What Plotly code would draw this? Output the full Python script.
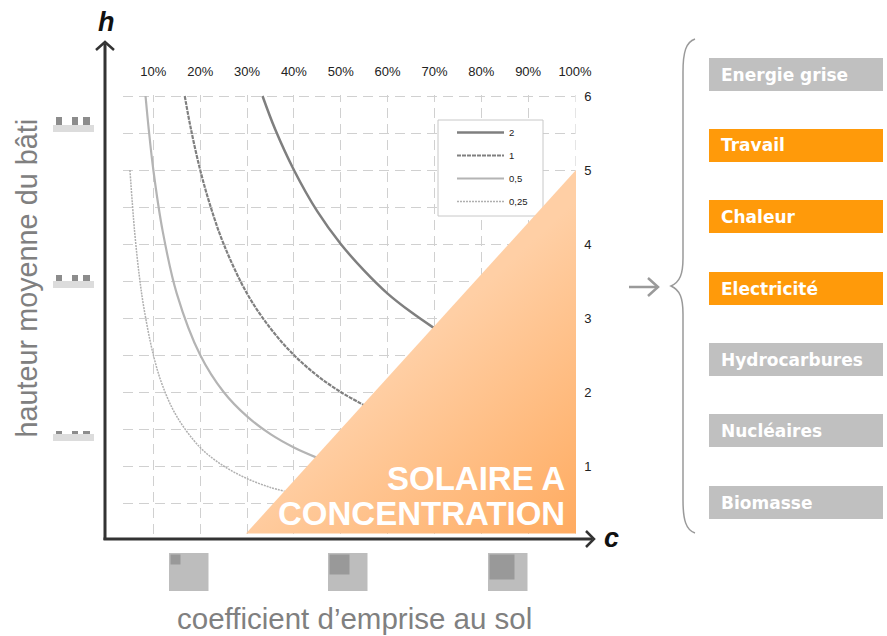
import re
import base64
import plotly.graph_objects as go

W, H = 887, 636
X0, X100 = 106.5, 575.0
Y0, Y6 = 540.0, 96.0
X_MAX, Y_MAX = 100.5, 6.06

coverage_ticks = [10, 20, 30, 40, 50, 60, 70, 80, 90, 100]
coverage_labels = ["10%", "20%", "30%", "40%", "50%", "60%", "70%", "80%", "90%", "100%"]
height_ticks = [1, 2, 3, 4, 5, 6]
height_minor = [0.5, 1.5, 2.5, 3.5, 4.5, 5.5]

names = ["2", "1", "0,5", "0,25"]
c_2 = [33.3, 36, 40, 45, 50, 55, 60, 65, 70]
h_2 = [6, 5.55, 5, 4.44, 4, 3.64, 3.33, 3.08, 2.86]
c_1 = [16.7, 18, 20, 22, 25, 30, 35, 40, 45, 50, 55]
h_1 = [6, 5.56, 5, 4.55, 4, 3.33, 2.86, 2.5, 2.22, 2, 1.82]
c_05 = [8.33, 9, 10, 12, 15, 20, 25, 30, 35, 40, 45]
h_05 = [6, 5.56, 5, 4.17, 3.33, 2.5, 2, 1.67, 1.43, 1.25, 1.11]
c_025 = [5, 6, 7, 8, 10, 12, 15, 20, 25, 30, 35, 38]
h_025 = [5, 4.17, 3.57, 3.13, 2.5, 2.08, 1.67, 1.25, 1, 0.83, 0.71, 0.66]

energy_labels = ["Energie grise", "Travail", "Chaleur", "Electricité", "Hydrocarbures", "Nucléaires", "Biomasse"]
energy_tops = [58, 129, 200, 272, 343, 414, 486]
energy_active = [False, True, True, True, False, False, False]

FONT = "Liberation Sans"
PX_PER_X = (X100 - X0) / 100
PX_PER_Y = (Y0 - Y6) / 6


def px(x):
    return x / W


def py(y):
    return 1 - y / H


def data_x(x):
    return (x - X0) / PX_PER_X


def data_y(y):
    return (Y0 - y) / PX_PER_Y


shapes = []


def rect(x0, y0, x1, y1, color):
    shapes.append(dict(type="rect", xref="paper", yref="paper", x0=px(x0), x1=px(x1), y0=py(y0), y1=py(y1),
                       fillcolor=color, line_width=0, layer="above"))


def path(points, color, width):
    d = "M" + " L".join(f"{px(a):.5f},{py(b):.5f}" for a, b in points)
    shapes.append(dict(type="path", xref="paper", yref="paper", path=d, line=dict(color=color, width=width),
                       layer="above"))


def curve(d, color, width):
    toks = re.findall(r"[MCL]|-?[\d.]+", d)
    out = []
    is_x = True
    for t in toks:
        if t in "MCL":
            out.append(t)
            is_x = True
        else:
            v = float(t)
            out.append(f"{px(v) if is_x else py(v):.5f}")
            is_x = not is_x
    shapes.append(dict(type="path", xref="paper", yref="paper", path=" ".join(out),
                       line=dict(color=color, width=width), layer="above"))


def mask(x0, x1, y0, y1):
    shapes.append(dict(type="rect", xref="x", yref="y", x0=x0, x1=x1, y0=y0, y1=y1,
                       fillcolor="white", line_width=0, layer="between"))


# white masks trimming the grid to the reference's extent
mask(0, 3.4, 0.1, Y_MAX)
mask(0, X_MAX, 6.012, Y_MAX)
mask(100.12, X_MAX, 0, Y_MAX)
# legend frame
shapes.append(dict(type="rect", xref="x", yref="y", x0=data_x(438), x1=data_x(543), y0=data_y(216), y1=data_y(120),
                   fillcolor="white", line=dict(color="#c8c8c8", width=1), layer="between"))

# main axes with arrow heads
AX = "#333333"
path([(105, 540), (105, 44)], AX, 3)
path([(96, 50), (105, 42), (114, 50)], AX, 2.5)
path([(103.5, 539), (592, 539)], AX, 3)
path([(586, 531), (594, 539), (586, 547)], AX, 2.5)

# small building icons on the height axis
for bar_top, sq_top, sq_bot in [(125, 117, 125), (281, 275, 281), (434, 431, 434)]:
    rect(53, bar_top, 94, bar_top + 7, "#dcdcdc")
    for a, b in [(56, 62), (72, 78), (83, 90)]:
        rect(a, sq_top, b, sq_bot, "#8c8c8c")

# plot-coverage thumbnails
for left, side in [(169, 10), (328, 20), (488, 25)]:
    rect(left, 553, left + 39.5, 591, "#bdbdbd")
    rect(left + 1.5, 554.5, left + 1.5 + side, 554.5 + side, "#999999")

# energy boxes
for top, active in zip(energy_tops, energy_active):
    rect(709, top, 883, top + 33, "#ff9a0a" if active else "#c0c0c0")

# brace and arrow
curve("M695 39 C686 42 683 52 683 72 L683 258 C683 274 680 282 671 286 C680 290 683 298 683 314 L683 500 C683 520 686 530 695 533",
      "#9a9a9a", 1.5)
path([(629, 287), (658, 287)], "#9a9a9a", 2.5)
path([(648, 278), (658, 287), (648, 296)], "#9a9a9a", 2.5)

annotations = []


def text(x, y, s, size, color, bold=False, italic=False, anchor="center", angle=0, family=FONT):
    if bold:
        s = f"<b>{s}</b>"
    if italic:
        s = f"<i>{s}</i>"
    annotations.append(dict(x=px(x), y=py(y), xref="paper", yref="paper", text=s, showarrow=False,
                            xanchor=anchor, yanchor="middle", textangle=angle,
                            font=dict(family=family, size=size, color=color)))


text(106, 22, "h", 27, "#111111", bold=True, italic=True)
text(611, 538, "c", 27, "#111111", bold=True, italic=True)
text(26, 278.5, "hauteur moyenne du bâti", 28.8, "#808080", angle=-90)
text(354.5, 618, "coefficient d’emprise au sol", 29.5, "#808080")
text(567, 478, "SOLAIRE A", 33, "white", bold=True, anchor="right")
text(567, 513, "CONCENTRATION", 33, "white", bold=True, anchor="right")
for label, top in zip(energy_labels, energy_tops):
    text(719, top + 16.5, label, 17, "#ffffff", bold=True, anchor="left", family="DejaVu Sans")

svg = f'''<svg xmlns="http://www.w3.org/2000/svg" width="{W}" height="{H}" viewBox="0 0 {W} {H}">
<defs><linearGradient id="g" gradientUnits="userSpaceOnUse" x1="410" y1="352" x2="576" y2="534">
<stop offset="0" stop-color="#ffcfa5"/><stop offset="1" stop-color="#ffab60"/></linearGradient></defs>
<polygon points="246,533.5 576,170 576,533.5" fill="url(#g)"/></svg>'''
img = "data:image/svg+xml;base64," + base64.b64encode(svg.encode()).decode()

fig = go.Figure()
styles = [
    ("#7f7f7f", 2.5, "solid"),
    ("#808080", 2.2, "4px,1px"),
    ("#b4b4b4", 2.2, "solid"),
    ("#b0b0b0", 1.5, "2px,1px"),
]
for name, cs, hs, (color, width, dash) in zip(names, [c_2, c_1, c_05, c_025], [h_2, h_1, h_05, h_025], styles):
    fig.add_trace(go.Scatter(x=cs, y=hs, name=name, mode="lines", legendgroup=name,
                             line=dict(color=color, width=width, dash=dash, shape="spline")))

GRID = "#d0d0d0"
DASH = "10px,6px"
fig.update_layout(
    width=W, height=H, margin=dict(l=0, r=0, t=0, b=0), autosize=False,
    paper_bgcolor="white", plot_bgcolor="white",
    font=dict(family=FONT, color="#222222"),
    xaxis=dict(domain=[px(X0), px(X0 + X_MAX * PX_PER_X)], range=[0, X_MAX], side="top", tickvals=coverage_ticks,
               ticktext=coverage_labels, showgrid=True, gridcolor=GRID, griddash=DASH, gridwidth=1,
               zeroline=False, showline=False, ticks="", tickfont=dict(size=13, color="#222222"),
               ticklabelstandoff=12, automargin=False, fixedrange=True),
    yaxis=dict(domain=[py(Y0), py(Y0 - Y_MAX * PX_PER_Y)], range=[0, Y_MAX], side="right", tickvals=height_ticks,
               showgrid=True, gridcolor=GRID, griddash=DASH, gridwidth=1,
               minor=dict(tickvals=height_minor, showgrid=True, gridcolor=GRID, griddash=DASH, gridwidth=1, ticks=""),
               zeroline=False, showline=False, ticks="", tickfont=dict(size=13, color="#222222"),
               ticklabelstandoff=6, automargin=False, fixedrange=True),
    legend=dict(x=px(452), y=py(118), xanchor="left", yanchor="top", bgcolor="rgba(0,0,0,0)", borderwidth=0,
                font=dict(size=9.5, family=FONT, color="#222222"), itemwidth=47, tracegroupgap=4, traceorder="grouped"),
    shapes=shapes,
    annotations=annotations,
    images=[dict(source=img, xref="paper", yref="paper", x=0, y=1, sizex=1, sizey=1, xanchor="left", yanchor="top",
                 sizing="stretch", layer="above")],
)
fig.write_html("out.html", post_script="document.body.style.margin='0';", config={"displayModeBar": False})
